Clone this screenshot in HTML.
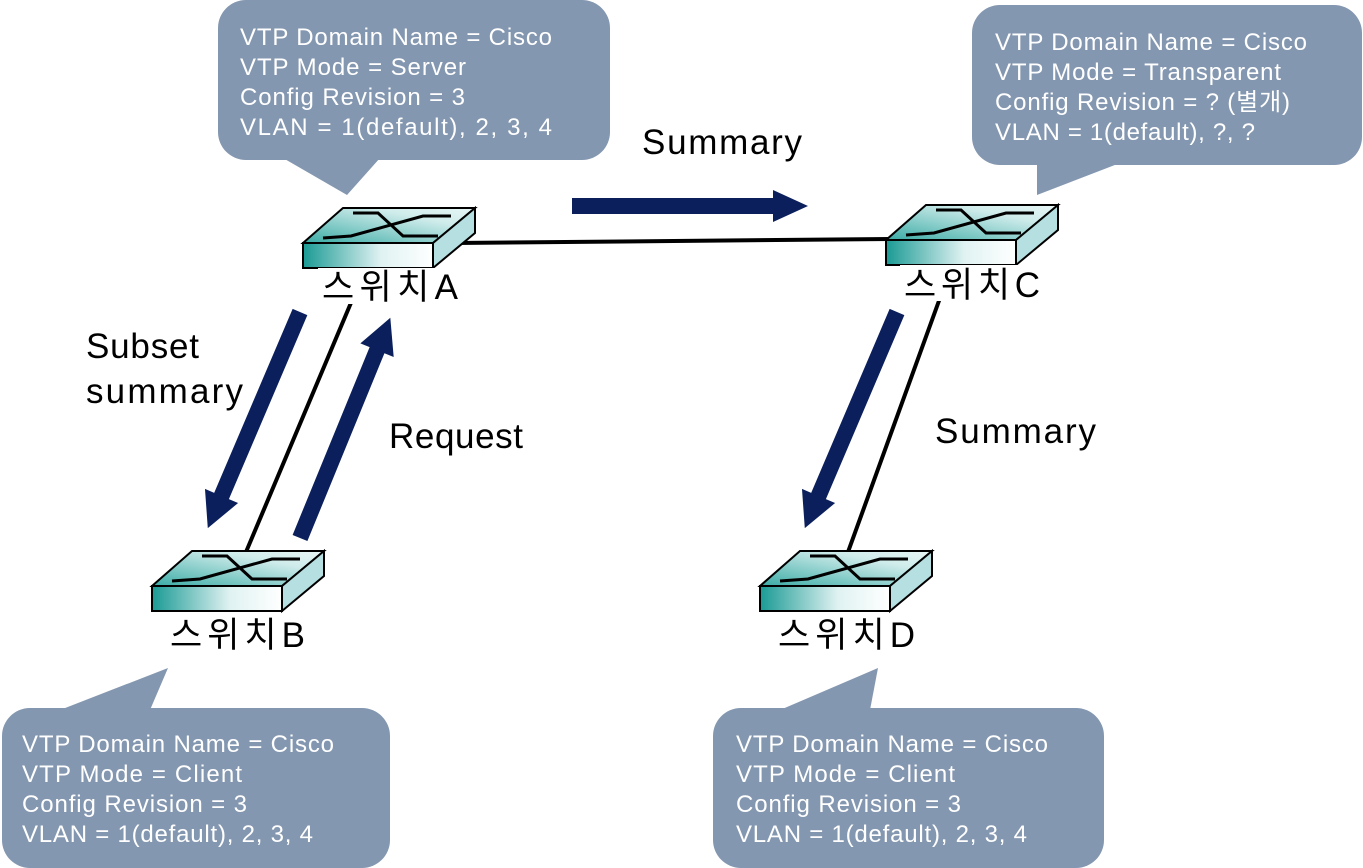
<!DOCTYPE html>
<html><head><meta charset="utf-8"><style>
body{margin:0;background:#fff}
svg{display:block}
text{font-family:"Liberation Sans","Noto Sans CJK KR",sans-serif}
.c{fill:#fff;font-size:24px}
.l{fill:#000;font-size:35px}
</style></head><body>
<svg width="1363" height="868" viewBox="0 0 1363 868" xmlns="http://www.w3.org/2000/svg">
<defs>
<linearGradient id="gf" x1="0" x2="1" y1="0" y2="0"><stop offset="0" stop-color="#1a9a94"/><stop offset="0.6" stop-color="#e0f2f2"/><stop offset="1" stop-color="#ffffff"/></linearGradient>
<linearGradient id="gt" x1="0" x2="1" y1="1" y2="0"><stop offset="0" stop-color="#3aaba5"/><stop offset="0.7" stop-color="#cfeceb"/><stop offset="1" stop-color="#e8f6f6"/></linearGradient>
<g id="sw">
<polygon points="0,35 40,0 172,0 130,35" fill="url(#gt)" stroke="#000" stroke-width="2"/>
<polygon points="130,35 172,0 172,25 130,60" fill="#b5dfe0" stroke="#000" stroke-width="2"/>
<rect x="0" y="35" width="130" height="25" fill="url(#gf)" stroke="#000" stroke-width="2"/>
<polyline points="50,5 75,5 100,28 135,28" fill="none" stroke="#000" stroke-width="3"/>
<polyline points="20,30 48,28 120,8 148,8" fill="none" stroke="#000" stroke-width="3"/>
</g>
</defs>

<g fill="#8497b0">
<rect x="218" y="0" width="392" height="160" rx="28"/>
<polygon points="283,158 380,158 347,195"/>
<rect x="972" y="5" width="390" height="160" rx="28"/>
<polygon points="1037,163 1120,163 1037,195"/>
<rect x="2" y="708" width="388" height="160" rx="28"/>
<polygon points="60,710 150,710 168,668"/>
<rect x="713" y="708" width="391" height="160" rx="28"/>
<polygon points="780,710 870,710 878,668"/>
</g>
<g class="c" lengthAdjust="spacingAndGlyphs">
<text x="240" y="45" textLength="312">VTP Domain Name = Cisco</text>
<text x="240" y="75" textLength="226">VTP Mode = Server</text>
<text x="240" y="105" textLength="225">Config Revision = 3</text>
<text x="240" y="135" textLength="312">VLAN = 1(default), 2, 3, 4</text>
<text x="995" y="50" textLength="312">VTP Domain Name = Cisco</text>
<text x="995" y="80" textLength="286">VTP Mode = Transparent</text>
<text x="995" y="110" textLength="295">Config Revision = ? (별개)</text>
<text x="995" y="140" textLength="260">VLAN = 1(default), ?, ?</text>
<text x="22" y="752" textLength="312">VTP Domain Name = Cisco</text>
<text x="22" y="782" textLength="220">VTP Mode = Client</text>
<text x="22" y="812" textLength="225">Config Revision = 3</text>
<text x="22" y="842" textLength="291">VLAN = 1(default), 2, 3, 4</text>
<text x="736" y="752" textLength="312">VTP Domain Name = Cisco</text>
<text x="736" y="782" textLength="219">VTP Mode = Client</text>
<text x="736" y="812" textLength="225">Config Revision = 3</text>
<text x="736" y="842" textLength="291">VLAN = 1(default), 2, 3, 4</text>
</g>

<g stroke="#000" stroke-width="4">
<line x1="455" y1="243" x2="890" y2="239"/>
<line x1="353" y1="298" x2="246" y2="552"/>
<line x1="940" y1="298" x2="848" y2="552"/>
</g>

<use href="#sw" x="303" y="208"/>
<use href="#sw" x="886" y="205"/>
<use href="#sw" x="152" y="551"/>
<use href="#sw" x="760" y="551"/>

<rect x="318" y="268" width="145" height="36" fill="#fff"/>
<rect x="900" y="265" width="145" height="36" fill="#fff"/>
<g class="l" lengthAdjust="spacingAndGlyphs">
<text x="322" y="299" textLength="136">스위치A</text>
<text x="904" y="297" textLength="136">스위치C</text>
<text x="170" y="647" textLength="135">스위치B</text>
<text x="778" y="647" textLength="137">스위치D</text>
</g>

<g fill="#0a1f5c">
<g transform="translate(572,206)"><path d="M0,-8 L201,-8 L201,-16 L236,0 L201,16 L201,8 L0,8 Z"/></g>
<g transform="translate(300,312) rotate(113.1)"><path d="M0,-8 L200,-8 L200,-18 L235,0 L200,18 L200,8 L0,8 Z"/></g>
<g transform="translate(300,538) rotate(-67.7)"><path d="M0,-8 L203,-8 L203,-18 L238,0 L203,18 L203,8 L0,8 Z"/></g>
<g transform="translate(897,312) rotate(113.1)"><path d="M0,-8 L200,-8 L200,-18 L235,0 L200,18 L200,8 L0,8 Z"/></g>
</g>

<g class="l" lengthAdjust="spacingAndGlyphs">
<text x="642" y="154" textLength="160">Summary</text>
<text x="86" y="358" textLength="113">Subset</text>
<text x="86" y="403" textLength="157">summary</text>
<text x="389" y="448" textLength="134">Request</text>
<text x="935" y="443" textLength="161">Summary</text>
</g>
</svg>
</body></html>
